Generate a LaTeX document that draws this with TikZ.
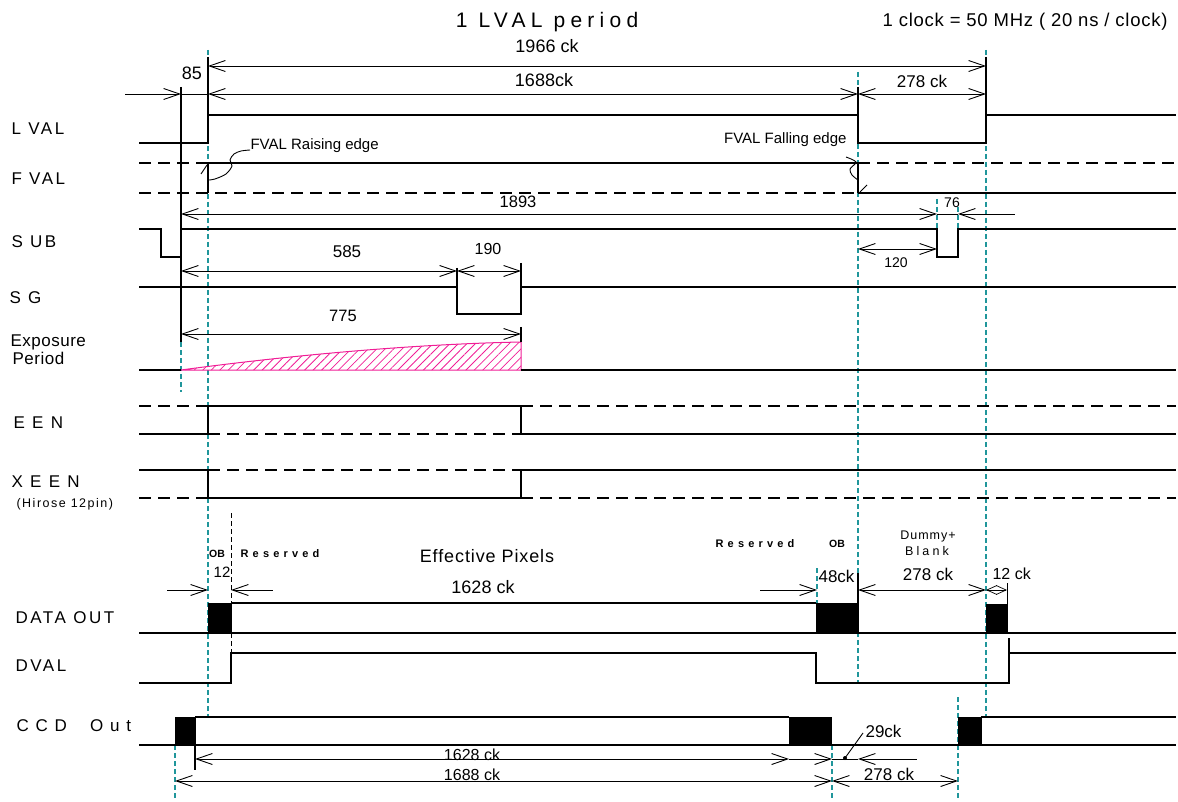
\documentclass[tikz,border=0pt]{standalone}
\usepackage{fontspec}
\setmainfont{Liberation Sans}
\usetikzlibrary{arrows.meta,patterns.meta}
\newcommand{\myfs}[1]{\fontsize{#1}{#1}\selectfont}
\definecolor{cyl}{RGB}{32,150,155}
\definecolor{pnk}{RGB}{240,30,150}
\begin{document}
\begin{tikzpicture}[x=1pt,y=-1pt,
  line width=1.1pt,
  dsh/.style={dash pattern=on 12pt off 7pt},
  cyline/.style={draw=cyl,line width=1.2pt,dash pattern=on 5pt off 3pt},
  dimline/.style={line width=0.9pt},
  >={Straight Barb[length=16pt,width=11pt]},
  txt/.style={inner sep=0pt,anchor=base},
  siglab/.style={inner sep=0pt,anchor=base west,font=\myfs{17}\addfontfeature{LetterSpace=15}},
  small/.style={inner sep=0pt,anchor=base,font=\myfs{11}\bfseries\addfontfeature{LetterSpace=38}},
  blk/.style={fill=black,draw=black,line width=0.8pt}
]
\useasboundingbox (0,0) rectangle (1178,802);

% ---------- cyan reference lines ----------
\draw[cyline] (208,50) -- (208,717);
\draw[cyline] (858,72) -- (858,683);
\draw[cyline] (986,50) -- (986,717);
\draw[cyline] (181,342) -- (181,392);
\draw[cyline] (817,568) -- (817,603);
\draw[cyline] (937,199) -- (937,229);
\draw[cyline] (958,207) -- (958,229);
\draw[cyline] (175,745) -- (175,800);
\draw[cyline] (832,745) -- (832,800);
\draw[cyline] (958,697) -- (958,800);

% ---------- title texts ----------
\node[txt,font=\myfs{21}\addfontfeature{LetterSpace=25}] (title) at (547,28) {1 LVAL period};
\node[txt,anchor=base east,font=\myfs{18.5}\addfontfeature{LetterSpace=4}] (clk) at (1168,27) {1 clock = 50 MHz ( 20 ns / clock)};

% ---------- top dimensions ----------
\draw[dimline,<->] (208,66) -- (986,66);
\node[txt,font=\myfs{18}] (t1966) at (547,53) {1966 ck};
\draw[dimline,->] (125,94) -- (181,94);
\draw[dimline] (181,94) -- (208,94);
\draw[dimline,<->] (208,94) -- (858,94);
\draw[dimline,<->] (858,94) -- (986,94);
\node[txt,font=\myfs{18}] (t85) at (192,80) {85};
\node[txt,font=\myfs{18}] (t1688) at (544,87) {1688ck};
\node[txt,font=\myfs{17}] (t278a) at (922,88) {278 ck};

% extension lines
\draw (208,57) -- (208,115);
\draw (986,57) -- (986,115);
\draw (858,87) -- (858,115);
\draw (181,87) -- (181,342);

% ---------- signal labels ----------
\node[siglab] (lLVAL) at (11,135) {L VAL};
\node[siglab] (lFVAL) at (11,185) {F VAL};
\node[siglab] (lSUB) at (11,248) {S UB};
\node[siglab] (lSG) at (9,304) {S G};
\node[inner sep=0pt,anchor=base west,font=\myfs{17}\addfontfeature{LetterSpace=3}] (lExp) at (10,346) {Exposure};
\node[inner sep=0pt,anchor=base west,font=\myfs{17}\addfontfeature{LetterSpace=3}] (lPer) at (12,364) {Period};
\node[siglab] (lEEN) at (13,428) {E E N};
\node[siglab] (lXEEN) at (11,487) {X E E N};
\node[inner sep=0pt,anchor=base west,font=\myfs{12.5}\addfontfeature{LetterSpace=12}] (lHir) at (16,507) {(Hirose 12pin)};
\node[siglab] (lDATA) at (15,623) {DATA OUT};
\node[siglab] (lDVAL) at (15,671) {DVAL};
\node[siglab,font=\myfs{17}\addfontfeature{LetterSpace=40}] (lCCD) at (16,731) {CCD\ \ Out};

% ---------- LVAL ----------
\draw (139,143) -- (208,143) -- (208,115) -- (858,115) -- (858,143) -- (986,143) -- (986,115) -- (1176,115);

% ---------- FVAL ----------
\draw[dsh] (139,163) -- (208,163);
\draw (208,163) -- (858,163);
\draw[dsh] (858,163) -- (1176,163);
\draw[dsh] (139,193) -- (858,193);
\draw (858,193) -- (1176,193);
\draw (208,163) -- (208,193);
\draw (858,163) -- (858,193);
\node[inner sep=0pt,anchor=base west,font=\myfs{15}] (tRise) at (250,150) {FVAL Raising edge};
\node[inner sep=0pt,anchor=base east,font=\myfs{15}] (tFall) at (847,144) {FVAL Falling edge};
\draw[line width=0.9pt] plot[smooth] coordinates {(250,150) (241,151) (234,154) (230,160) (232,166) (226,174) (215,179) (209,180)};
\draw[line width=0.9pt] (201,174) -- (207,165);
\draw[line width=0.9pt] plot[smooth] coordinates {(846,157) (856,162) (850,169) (852,175) (858,180)};
\draw[line width=0.9pt] (860,192) -- (867,185);

% ---------- SUB ----------
\draw (139,229) -- (161,229) -- (161,257) -- (181,257) -- (181,229) -- (937,229) -- (937,257) -- (958,257) -- (958,229) -- (1176,229);
\draw[dimline,<->] (181,214) -- (937,214);
\draw[dimline] (937,214) -- (958,214);
\draw[dimline,<-] (958,214) -- (1015,214);
\node[txt,font=\myfs{16.5}] (t1893) at (518,208) {1893};
\node[txt,font=\myfs{14}] (t76) at (952,208) {76};
\draw[dimline,<->] (858,249) -- (937,249);
\node[txt,font=\myfs{14}] (t120) at (896,268) {120};

% ---------- SG ----------
\draw (139,287) -- (457,287) -- (457,314) -- (521,314) -- (521,287) -- (1176,287);
\draw (457,268) -- (457,287);
\draw (521,263) -- (521,287);
\draw[dimline,<->] (181,271) -- (457,271);
\draw[dimline,<->] (457,271) -- (521,271);
\node[txt,font=\myfs{17}] (t585) at (347,258) {585};
\node[txt,font=\myfs{16}] (t190) at (488,255) {190};

% ---------- Exposure ----------
\draw[pnk,line width=1pt,pattern={Lines[angle=45,distance=6pt,line width=0.8pt]},pattern color=pnk]
  (181,370) .. controls (300,354) and (420,344) .. (521,342) -- (521,370) -- cycle;
\draw (139,370) -- (181,370);
\draw (521,370) -- (1176,370);
\draw (521,327) -- (521,342);
\draw[dimline,<->] (181,334) -- (521,334);
\node[txt,font=\myfs{16.5}] (t775) at (343,322) {775};

% ---------- EEN ----------
\draw[dsh] (139,406) -- (208,406);
\draw (208,406) -- (521,406);
\draw[dsh] (521,406) -- (1176,406);
\draw (139,434) -- (208,434);
\draw[dsh] (208,434) -- (521,434);
\draw (521,434) -- (1176,434);
\draw (208,406) -- (208,434);
\draw (521,406) -- (521,434);

% ---------- XEEN ----------
\draw (139,470) -- (208,470);
\draw[dsh] (208,470) -- (521,470);
\draw (521,470) -- (1176,470);
\draw[dsh] (139,498) -- (208,498);
\draw (208,498) -- (521,498);
\draw[dsh] (521,498) -- (1176,498);
\draw (208,470) -- (208,498);
\draw (521,470) -- (521,498);

% ---------- DATA OUT ----------
\draw[line width=0.9pt,dash pattern=on 5pt off 3pt] (231,513) -- (231,603);
\draw[line width=0.9pt,dash pattern=on 5pt off 3pt] (231,633) -- (231,653);
\draw (139,633) -- (1176,633);
\draw (231,603) -- (816,603);
\draw[blk] (208,603) rectangle (231,633);
\draw[blk] (816,603) rectangle (858,633);
\draw[blk] (986,604) rectangle (1007,633);
\draw (858,573) -- (858,603);
\draw[line width=0.9pt] (1007,583) -- (1007,604);
\draw[dimline,->] (167,590) -- (208,590);
\draw[dimline,<-] (231,590) -- (273,590);
\draw[dimline,->] (760,590) -- (817,590);
\draw[dimline,<->] (858,590) -- (986,590);
\draw[line width=0.7pt,{Straight Barb[length=10pt,width=9pt]}-{Straight Barb[length=10pt,width=9pt]}] (986,590) -- (1007,590);
\node[txt,font=\myfs{10.5}\bfseries] (tOB1) at (217,557) {OB};
\node[small] (tRes1) at (280,557) {Reserved};
\node[txt,font=\myfs{15}] (t12) at (222,577) {12};
\node[txt,font=\myfs{18}\addfontfeature{LetterSpace=5}] (tEff) at (487,562) {Effective Pixels};
\node[txt,font=\myfs{18}] (t1628a) at (483,593) {1628 ck};
\node[small] (tRes2) at (755,547) {Reserved};
\node[txt,font=\myfs{10.5}\bfseries] (tOB2) at (837,547) {OB};
\node[txt,font=\myfs{12.5}\addfontfeature{LetterSpace=8}] (tDum) at (928,539) {Dummy+};
\node[txt,font=\myfs{12.5}\addfontfeature{LetterSpace=25}] (tBl) at (927,555) {Blank};
\node[inner sep=0pt,anchor=base west,font=\myfs{17}] (t48) at (818,582) {48ck};
\node[txt,font=\myfs{17}] (t278b) at (928,580) {278 ck};
\node[inner sep=0pt,anchor=base west,font=\myfs{16}] (t12ck) at (992,579) {12 ck};

% ---------- DVAL ----------
\draw (139,683) -- (231,683) -- (231,653) -- (816,653) -- (816,683) -- (1009,683) -- (1009,638);
\draw (1009,653) -- (1176,653);

% ---------- CCD Out ----------
\draw (139,745) -- (1176,745);
\draw (195,717) -- (789,717);
\draw (981,717) -- (1176,717);
\draw[blk] (175,717) rectangle (195,745);
\draw[blk] (789,717) rectangle (831,745);
\draw[blk] (958,717) rectangle (981,745);
\draw (195,745) -- (195,770);
\draw[dimline,<->] (195,759) -- (789,759);
\draw[dimline,->] (789,759) -- (832,759);
\draw[dimline] (832,759) -- (858,759);
\draw[dimline,<-] (858,759) -- (917,759);
\draw[dimline,<->] (175,781) -- (832,781);
\draw[dimline,<->] (832,781) -- (958,781);
\fill (845,758) circle (2pt);
\draw[line width=0.9pt] (845,758) -- (863,733);
\node[inner sep=0pt,anchor=base west,font=\myfs{17}] (t29) at (865,737) {29ck};
\node[txt,font=\myfs{16}] (t1628b) at (472,760) {1628 ck};
\node[txt,font=\myfs{16}] (t1688b) at (472,780) {1688 ck};
\node[txt,font=\myfs{17}] (t278c) at (889,780) {278 ck};
\end{tikzpicture}
\end{document}
